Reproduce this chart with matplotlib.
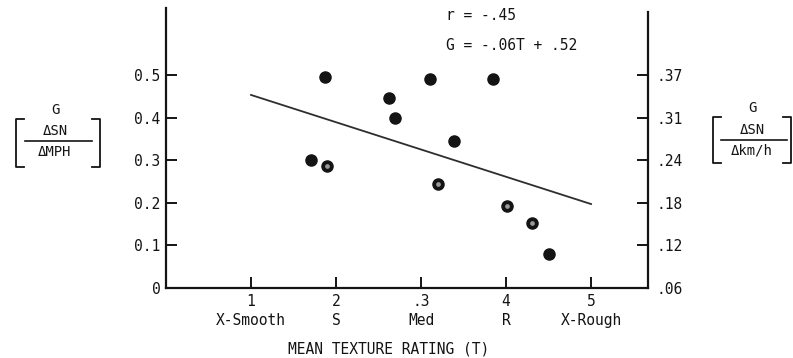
import matplotlib
matplotlib.use("Agg")
import matplotlib.pyplot as plt
from matplotlib.lines import Line2D

plt.rcParams["font.family"] = ["DejaVu Sans Mono", "DejaVu Sans"]

# Solid dots and ringed dots (mean texture rating T, gradient G in SN/MPH)
solid_t = [1.87, 3.11, 3.85, 2.62, 2.69, 3.39, 1.70, 4.50]
solid_g = [0.495, 0.491, 0.490, 0.445, 0.398, 0.346, 0.300, 0.080]
ringed_t = [1.89, 3.20, 4.01, 4.30]
ringed_g = [0.286, 0.244, 0.193, 0.153]

# Least-squares fit, reported as G = -.06T + .52
slope = -0.064
intercept = 0.517
fit_t = [1, 5]

x_ticks = [1, 2, 3, 4, 5]
x_tick_labels = ["1\nX-Smooth", "2\nS", ".3\nMed", "4\nR", "5\nX-Rough"]
y_ticks = [0, 0.1, 0.2, 0.3, 0.4, 0.5]
y_tick_labels = ["0", "0.1", "0.2", "0.3", "0.4", "0.5"]
# Right-hand scale in SN per km/h, placed against the left-hand ticks
right_tick_labels = [".06", ".12", ".18", ".24", ".31", ".37"]

W, H = 793, 358
fig = plt.figure(figsize=(W / 100, H / 100), dpi=100)
ax = fig.add_axes([166 / W, 1 - 288 / H, (648 - 166) / W, 280 / H])

ax.set_xlim(0, 5.67)
ax.set_ylim(0, 0.657)

ink = "#141414"
fs = 10.5

ax.plot(fit_t, [slope * t + intercept for t in fit_t], color="#2e2e2e", lw=1.3, zorder=2)
ax.plot(solid_t, solid_g, "o", ms=8, color=ink, mec=ink, zorder=3)
ax.plot(ringed_t, ringed_g, "o", ms=8, color=ink, mec=ink, zorder=3)
ax.plot(ringed_t, ringed_g, "o", ms=3.4, color="#9a9a9a", mec="none", zorder=4)

ax.spines["top"].set_visible(False)
for side in ["left", "bottom", "right"]:
    ax.spines[side].set_linewidth(1.6)
    ax.spines[side].set_color(ink)
ax.spines["right"].set_bounds(0, 0.648)

ax.set_xticks(x_ticks)
ax.set_xticklabels(x_tick_labels, fontsize=fs, linespacing=1.35, color=ink)
ax.set_yticks(y_ticks)
ax.set_yticklabels(y_tick_labels, fontsize=fs, color=ink)
ax.tick_params(axis="both", direction="in", length=8, width=1.4, color=ink)
ax.tick_params(axis="y", pad=4)
ax.tick_params(axis="x", pad=4)

ax2 = ax.twinx()
ax2.set_ylim(ax.get_ylim())
for side in ["top", "left", "bottom", "right"]:
    ax2.spines[side].set_visible(False)
ax2.set_yticks(y_ticks)
ax2.set_yticklabels(right_tick_labels, fontsize=fs, color=ink)
ax2.tick_params(axis="y", direction="in", length=8, width=1.4, color=ink, pad=6)

fig.text(389 / W, 1 - 349 / H, "MEAN TEXTURE RATING (T)", ha="center", va="center",
         fontsize=fs, color=ink)
fig.text(446 / W, 1 - 15 / H, "r = -.45", ha="left", va="center", fontsize=fs, color=ink)
fig.text(446 / W, 1 - 45 / H, "G = -.06T + .52", ha="left", va="center", fontsize=fs, color=ink)


def px_line(xs, ys, lw=1.3):
    fig.add_artist(Line2D([x / W for x in xs], [1 - y / H for y in ys],
                          transform=fig.transFigure, color=ink, lw=lw))


def unit_label(cx, top, bottom, left, right, rule, denom):
    """Bracketed G = dSN / d(speed) unit label drawn in pixel positions."""
    kw = dict(ha="center", va="center", fontsize=10, color=ink)
    fig.text(cx / W, 1 - (top - 9) / H, "G", **kw)
    fig.text(cx / W, 1 - (rule[2] - 10) / H, "ΔSN", **kw)
    fig.text(cx / W, 1 - (rule[2] + 11) / H, denom, **kw)
    px_line([rule[0], rule[1]], [rule[2], rule[2]], lw=1.2)
    px_line([left + 8, left, left, left + 8], [top, top, bottom, bottom])
    px_line([right - 8, right, right, right - 8], [top, top, bottom, bottom])


unit_label(55, 119, 167, 16, 100, (25, 92, 141), "ΔMPH")
unit_label(752, 117, 163, 713, 791, (721, 787, 140), "Δkm/h")

fig.savefig("out.png", dpi=100)
